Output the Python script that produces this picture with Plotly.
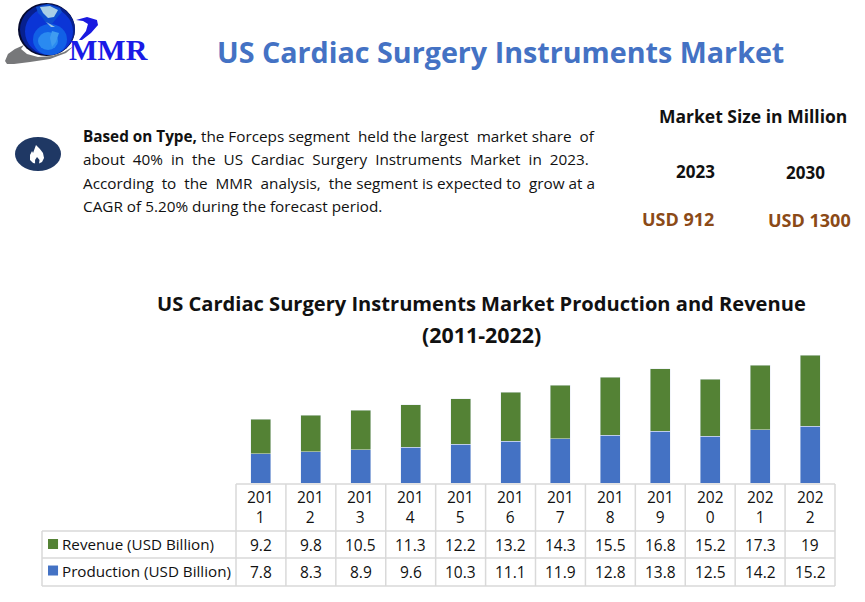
#!/usr/bin/env python3
"""US Cardiac Surgery Instruments Market infographic."""

import plotly.graph_objects as go

years = ["2011", "2012", "2013", "2014", "2015", "2016", "2017", "2018", "2019", "2020", "2021", "2022"]
revenue = [9.2, 9.8, 10.5, 11.3, 12.2, 13.2, 14.3, 15.5, 16.8, 15.2, 17.3, 19]
production = [7.8, 8.3, 8.9, 9.6, 10.3, 11.1, 11.9, 12.8, 13.8, 12.5, 14.2, 15.2]

W, H = 865, 602
GREEN = "#548235"
BLUE = "#4472C4"
GRID = "#d9d9d9"
BROWN = "#8B4A17"
FONT = "Open Sans"
SP = "\u00a0"


def px(x, y):
    return x / W, 1 - y / H


def path(points, close=True):
    parts = []
    for i, (x, y) in enumerate(points):
        a, b = px(x, y)
        parts.append(f"{'M' if i == 0 else 'L'}{a:.4f},{b:.4f}")
    return " ".join(parts) + (" Z" if close else "")


def text(x, y, s, size, color="#111111", bold=False, anchor="center", family=FONT):
    a, b = px(x, y)
    fig.add_annotation(
        x=a, y=b, xref="paper", yref="paper", text=f"<b>{s}</b>" if bold else s,
        showarrow=False, xanchor=anchor, yanchor="middle", align="center",
        font=dict(size=size, color=color, family=family),
    )


def ellipse(x0, y0, x1, y1, color):
    a0, b0 = px(x0, y0)
    a1, b1 = px(x1, y1)
    fig.add_shape(type="circle", xref="paper", yref="paper", x0=a0, y0=b0, x1=a1, y1=b1,
                  fillcolor=color, line_width=0)


def poly(points, color):
    fig.add_shape(type="path", xref="paper", yref="paper", path=path(points),
                  fillcolor=color, line_width=0)


def hline(y, x0, x1):
    a0, b = px(x0, y)
    a1, _ = px(x1, y)
    fig.add_shape(type="line", xref="paper", yref="paper", x0=a0, x1=a1, y0=b, y1=b,
                  line=dict(color=GRID, width=1.5))


fig = go.Figure()
fig.add_trace(go.Bar(x=years, y=production, name="Production (USD Billion)", marker_color=BLUE, width=0.4))
fig.add_trace(go.Bar(x=years, y=revenue, name="Revenue (USD Billion)", marker_color=GREEN, width=0.4))

fig.update_layout(
    barmode="stack",
    width=W,
    height=H,
    margin=dict(l=0, r=0, t=0, b=0),
    paper_bgcolor="white",
    plot_bgcolor="white",
    showlegend=False,
    xaxis=dict(domain=[236 / W, 835 / W], showticklabels=False, showgrid=False, zeroline=False,
               type="category", anchor="y"),
    yaxis=dict(domain=[1 - 483 / H, 1 - 345 / H], range=[0, 36.9], visible=False),
)

# logo
poly([(5, 61), (8, 54), (15, 49), (24, 45), (21, 49), (27, 54), (38, 57), (52, 56), (64, 52), (74, 46),
      (66, 53), (50, 59), (30, 62), (14, 64), (7, 64)], "#77787a")
ellipse(18, 3, 75, 56, "#050a30")
ellipse(20, 4, 75, 55, "#07208f")
ellipse(25, 8, 73, 55, "#0b35d6")
ellipse(33, 24, 67, 55, "#1160e6")
ellipse(38, 32, 58, 50, "#2a8af0")
poly([(36, 7), (48, 4), (60, 8), (62, 12), (56, 19), (52, 24), (46, 23), (42, 17), (38, 13)], "#0d4fd0")
poly([(40, 7), (50, 6), (58, 10), (54, 17), (48, 18), (43, 13)], "#a9cfe6")
poly([(46, 22), (50, 24), (55, 27), (51, 27)], "#9cc4e4")
poly([(52, 31), (59, 33), (56, 42), (52, 47), (50, 38)], "#3f9cf0")
poly([(76, 20), (87, 17), (97, 20), (98, 25), (91, 33), (82, 40), (79, 40), (86, 31), (88, 24), (83, 21)], "#1a1ae0")
text(108, 49, "MMR", 30, color="#1a1ae6", bold=True, family="Liberation Serif")

# flame icon
ellipse(15, 137, 61, 171, "#1F3864")
poly([(36, 145), (40, 149), (43, 153), (44, 158), (42, 162), (38, 164), (33, 163), (30, 160), (30, 155),
      (32, 151), (33, 153)], "white")
poly([(37, 157), (39.5, 160), (39, 164), (35, 164), (35, 160)], "#1F3864")

# headings
text(500.5, 51, "US Cardiac Surgery Instruments Market", 28.7, color=BLUE, bold=True)
text(753, 116, "Market Size in Million", 17.5, bold=True)
text(695, 171, "2023", 17, bold=True)
text(805, 172, "2030", 17, bold=True)
text(678, 219, "USD 912", 18, color=BROWN, bold=True)
text(809, 220, "USD 1300", 18, color=BROWN, bold=True)

# paragraph, extra spaces stand in for the justified word spacing
line1 = f"<b>Based on Type,</b> the Forceps segment{SP} held the largest{SP} market share{SP} of"
line2 = SP.join(["about", "", "40%", "", "in", "", "the", "", "US", "", "Cardiac", "", "Surgery", "", "Instruments",
                 "", "Market", " in", "", "2023."])
line3 = f"According{SP} to{SP} the{SP} MMR{SP} analysis,{SP} the segment is expected to{SP} grow at a"
text(81, 136.5, line1, 15.3, anchor="left")
text(81, 159.5, line2, 15.3, anchor="left")
text(81, 182.5, line3, 15.3, anchor="left")
text(81, 205.5, "CAGR of 5.20% during the forecast period.", 15.3, anchor="left")

# chart title
text(481, 303, "US Cardiac Surgery Instruments Market Production and Revenue", 20.1, bold=True)
text(481, 334, "(2011-2022)", 21.4, bold=True)

# data table under the axis
x_left, col = 236, (835 - 236) / len(years)
hline(484, x_left, 835)
for y in (531, 558, 586):
    hline(y, 42, 835)
for i in range(len(years) + 1):
    a, _ = px(x_left + i * col, 0)
    fig.add_shape(type="line", xref="paper", yref="paper", x0=a, x1=a, y0=1 - 484 / H, y1=1 - 586 / H,
                  line=dict(color=GRID, width=1.5))
a, _ = px(42, 0)
fig.add_shape(type="line", xref="paper", yref="paper", x0=a, x1=a, y0=1 - 531 / H, y1=1 - 586 / H,
              line=dict(color=GRID, width=1.5))

for i, year in enumerate(years):
    cx = x_left + (i + 0.5) * col
    text(cx, 506.5, f"{year[:3]}<br>{year[3:]}", 15.5)
    text(cx, 544.5, str(revenue[i]), 15.5)
    text(cx, 571.5, str(production[i]), 15.5)

for y, label, color in ((544, "Revenue (USD Billion)", GREEN), (570.5, "Production (USD Billion)", BLUE)):
    poly([(48, y - 5), (58, y - 5), (58, y + 5), (48, y + 5)], color)
    text(60, y, label, 15.2, anchor="left")

fig.write_html("out.html", config={"displayModeBar": False}, post_script="document.body.style.margin='0';")
